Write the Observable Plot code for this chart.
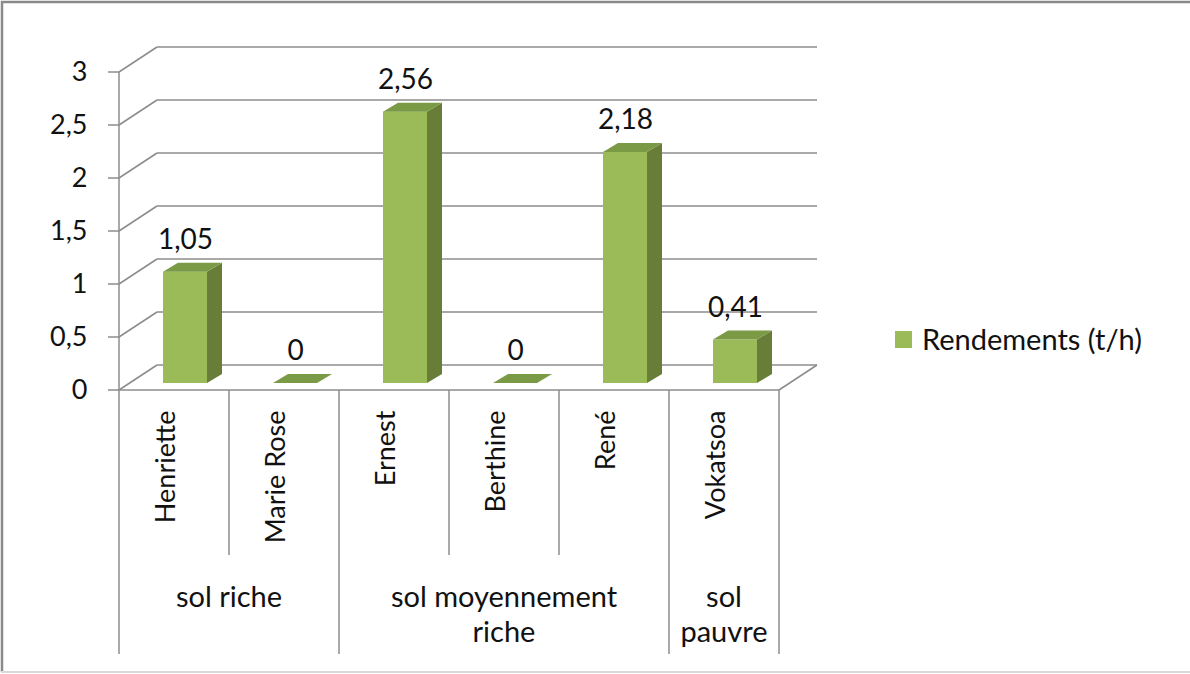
<!DOCTYPE html>
<html>
<head>
<meta charset="utf-8">
<script src="https://cdn.jsdelivr.net/npm/d3@7"></script>
<script src="https://cdn.jsdelivr.net/npm/@observablehq/plot@0.6"></script>
<style>
  html, body { margin: 0; padding: 0; background: #fff; }
  #chart svg { display: block; }
</style>
</head>
<body>
<div id="chart"></div>
<script>
// Rendements par exploitant, groupés par type de sol
const names = ["Henriette", "Marie Rose", "Ernest", "Berthine", "René", "Vokatsoa"];
const yields = [1.05, 0, 2.56, 0, 2.18, 0.41];
const soils = ["sol riche", "sol riche", "sol moyennement riche", "sol moyennement riche", "sol moyennement riche", "sol pauvre"];
const soilLabels = ["sol riche", "sol moyennement\nriche", "sol\npauvre"];
const yTicks = [0, 0.5, 1, 1.5, 2, 2.5, 3];
const seriesName = "Rendements (t/h)";

const data = names.map((name, i) => ({name, value: yields[i], soil: soils[i]}));
const soilGroups = Array.from(new Set(soils));

// Styling and pseudo-3D geometry (pixel offsets)
const FONT = "Lato, 'Open Sans', sans-serif";
const GRID = "#8c8c8c";
const FRONT = "#9bbb59", SIDE = "#677d38", TOP = "#7a9a45";
const WALL = [38, -25];      // depth of the back wall
const BAR_OFF = [11, -7];    // front face of the columns inside the box
const BAR_DEPTH = [15, -9];  // thickness of the columns
const BAR_W = 44;
const fmt = (v) => String(v).replace(".", ",");

function line(g, x1, y1, x2, y2, stroke = GRID, w = 1.5) {
  g.append("line").attr("x1", x1).attr("y1", y1).attr("x2", x2).attr("y2", y2)
    .attr("stroke", stroke).attr("stroke-width", w);
}

// Back wall gridlines, side diagonals, floor and value axis
function walls(index, {x, y}, values, dims) {
  const g = d3.create("svg:g");
  const x0 = dims.marginLeft, x1 = dims.width - dims.marginRight;
  for (const t of yTicks) {
    const yy = y(t);
    line(g, x0, yy, x0 + WALL[0], yy + WALL[1]);
    line(g, x0 + WALL[0], yy + WALL[1], x1 + WALL[0], yy + WALL[1]);
    line(g, x0 - 11, yy, x0, yy);
  }
  line(g, x0, y(3), x0, y(0));
  line(g, x0, y(0), x1, y(0));
  line(g, x1, y(0), x1 + WALL[0], y(0) + WALL[1]);
  return g.node();
}

// Side and top faces of each column
function columnFaces(index, {x, y}) {
  const g = d3.create("svg:g");
  const bw = x.bandwidth();
  for (const d of data) {
    const xl = x(d.name) + (bw - BAR_W) / 2 + BAR_OFF[0];
    const xr = xl + BAR_W;
    const yt = y(d.value) + BAR_OFF[1];
    const yb = y(0) + BAR_OFF[1];
    const [ddx, ddy] = BAR_DEPTH;
    g.append("polygon")
      .attr("points", [[xr, yb], [xr, yt], [xr + ddx, yt + ddy], [xr + ddx, yb + ddy]].join(" "))
      .attr("fill", SIDE);
    g.append("polygon")
      .attr("points", [[xl, yt], [xr, yt], [xr + ddx, yt + ddy], [xl + ddx, yt + ddy]].join(" "))
      .attr("fill", TOP);
  }
  return g.node();
}

// Two-level category axis: names, then soil groups
function categoryAxis(index, {x, y}, values, dims) {
  const g = d3.create("svg:g");
  const bw = x.bandwidth();
  const y0 = y(0);
  for (let i = 0; i <= names.length; i++) {
    const xb = (i < names.length ? x(names[i]) : x(names[i - 1]) + bw);
    const long = i === 0 || i === names.length || soils[i] !== soils[i - 1];
    line(g, xb, y0, xb, long ? 654 : 555);
  }
  soilGroups.forEach((s, k) => {
    const members = names.filter((n, i) => soils[i] === s);
    const cx = (x(members[0]) + x(members[members.length - 1]) + bw) / 2;
    const lines = soilLabels[k].split("\n");
    const t = g.append("text")
      .attr("text-anchor", "middle")
      .attr("font-family", FONT).attr("font-size", 29).attr("fill", "#111");
    lines.forEach((l, j) => {
      t.append("tspan").attr("x", cx).attr("y", 607 + j * 35).text(l);
    });
  });
  return g.node();
}

// Legend on the right and chart border
function legendAndBorder(index, scales, values, dims) {
  const g = d3.create("svg:g");
  g.append("rect").attr("x", 895).attr("y", 331).attr("width", 17).attr("height", 17).attr("fill", FRONT);
  g.append("text").attr("x", 922).attr("y", 350).attr("text-anchor", "start")
    .attr("font-family", FONT).attr("font-size", 29).attr("fill", "#111").text(seriesName);
  line(g, 2, 1, 2, 672, "#8a8a8a", 2.5);
  line(g, 1, 2, 1190, 2, "#8a8a8a", 2.5);
  line(g, 1, 672, 1190, 672, "#d9d9d9", 2);
  return g.node();
}

const chart = Plot.plot({
  width: 1190,
  height: 674,
  marginLeft: 119,
  marginRight: 411,
  marginTop: 72,
  marginBottom: 284,
  style: {fontFamily: FONT, background: "#fff", color: "#111"},
  x: {type: "band", domain: names, padding: 0, axis: null},
  y: {domain: [0, 3], axis: null},
  marks: [
    walls,
    Plot.barY(data, {
      x: "name", y: "value", fill: FRONT,
      insetLeft: (110 - BAR_W) / 2, insetRight: (110 - BAR_W) / 2,
      dx: BAR_OFF[0], dy: BAR_OFF[1]
    }),
    columnFaces,
    Plot.axisY(yTicks, {
      tickSize: 0, tickPadding: 32, tickFormat: fmt, label: null,
      fontSize: 27, fill: "#111", fontVariant: "normal"
    }),
    Plot.text(data, {
      x: "name", y: "value", text: (d) => fmt(d.value),
      dx: BAR_OFF[0], dy: BAR_OFF[1] - 32, fontSize: 28, fill: "#111"
    }),
    Plot.text(data, {
      x: "name", text: "name", frameAnchor: "bottom", dy: 20,
      rotate: -90, textAnchor: "end", fontSize: 27, fill: "#111"
    }),
    categoryAxis,
    legendAndBorder
  ]
});

document.getElementById("chart").appendChild(chart);
</script>
</body>
</html>
